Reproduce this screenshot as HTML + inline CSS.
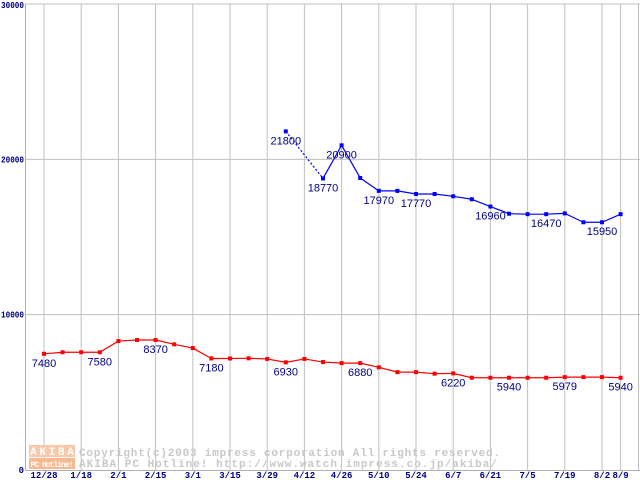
<!DOCTYPE html>
<html><head><meta charset="utf-8"><style>
html,body{margin:0;padding:0;background:#fff;}
svg{display:block;font-family:"Liberation Mono",monospace;}
</style></head><body>
<svg id="chart" width="640" height="480" viewBox="0 0 640 480" xmlns="http://www.w3.org/2000/svg"></svg>
<script>
const categories=["12/28","","1/18","","2/1","","2/15","","3/1","","3/15","","3/29","","4/12","","4/26","","5/10","","5/24","","6/7","","6/21","","7/5","","7/19","","8/2","8/9"];
const redValues=[7480,7580,7580,7580,8300,8370,8370,8090,7850,7180,7180,7190,7150,6930,7150,6950,6880,6880,6610,6300,6300,6200,6220,5940,5940,5940,5940,5940,5979,5979,5979,5940];
const blueValues=[null,null,null,null,null,null,null,null,null,null,null,null,null,21800,null,18770,20900,18800,17970,17970,17770,17770,17620,17430,16960,16500,16470,16470,16520,15950,15950,16470];
const redLabelIdx=[0,3,6,9,13,17,22,25,28,31];
const blueLabelIdx=[13,15,16,18,20,24,27,30];
const yTicks=[0,10000,20000,30000];

const svg=document.getElementById('chart');
const NS='http://www.w3.org/2000/svg';
const X0=44,DX=18.6,Y0=470,Y1=4,YMAX=30000;
const xs=i=>X0+DX*i;
const ys=v=>Y0-(v/YMAX)*(Y0-Y1);
function mk(tag,attrs,parent){const e=document.createElementNS(NS,tag);for(const k in attrs)e.setAttribute(k,attrs[k]);(parent||svg).appendChild(e);return e;}

const grid=mk('g',{});


yTicks.forEach(t=>{if(t>0){const l=mk('line',{x1:25,x2:640,y1:ys(t),y2:ys(t),stroke:'#c0c0c0','stroke-width':1},grid);

}});
categories.forEach((c,i)=>{if(c){const l=mk('line',{x1:xs(i),x2:xs(i),y1:Y1,y2:Y0,stroke:'#c0c0c0','stroke-width':1},grid);

}});
mk('line',{x1:638.5,x2:638.5,y1:Y1,y2:Y0,stroke:'#c0c0c0'},grid);
const ax=mk('line',{x1:25.5,x2:25.5,y1:Y1,y2:Y0,stroke:'#b0b0b0'},grid);


const bx=mk('line',{x1:25,x2:640,y1:Y0+0.5,y2:Y0+0.5,stroke:'#b0b0b0'},grid);



// watermark
const wm=mk('g',{});


mk('rect',{x:29,y:445,width:46,height:12,fill:'#f8c8a8'},wm);
mk('rect',{x:29,y:458,width:46,height:11,fill:'#f8b890'},wm);
let t=mk('text',{x:52,y:455,'text-anchor':'middle','font-size':11,'font-weight':'bold',fill:'#fff',textLength:44},wm);t.textContent='AKIBA';
t=mk('text',{x:52,y:467,'text-anchor':'middle','font-size':8,'font-weight':'bold',fill:'#fff',textLength:43},wm);t.textContent='PC Hotline!';
t=mk('text',{x:79,y:456,'font-size':11,'font-weight':'bold',fill:'#c8c8c8',textLength:421},wm);t.textContent='Copyright(c)2003 impress corporation All rights reserved.';
t=mk('text',{x:79,y:467,'font-size':11,'font-weight':'bold',fill:'#c8c8c8',textLength:418},wm);t.textContent='AKIBA PC Hotline!  http://www.watch.impress.co.jp/akiba/';

// y tick labels
yTicks.forEach(v=>{const s=String(v);
  const attrs={x:24,y:Math.min(Math.max(ys(v)+3,8),473),'text-anchor':'end','font-size':9,'font-weight':'bold',fill:'#000080'};
  if(s.length>1){attrs.textLength=s.length*4.6;attrs.lengthAdjust='spacingAndGlyphs';}
  const tt=mk('text',attrs);
  
  
  tt.textContent=s;});
// x tick labels
categories.forEach((c,i)=>{if(c){const tt=mk('text',{x:xs(i),y:478,'text-anchor':'middle','font-size':9,'font-weight':'bold',fill:'#000080'});


tt.textContent=c;}});

function series(vals,color,name,labelIdx){
  const g=mk('g',{});
  
  
  let prev=-1;
  vals.forEach((v,i)=>{
    if(v==null)return;
    if(prev>=0){const gap=i-prev>1;
      mk('line',{x1:xs(prev),y1:ys(vals[prev]),x2:xs(i),y2:ys(v),stroke:color,'stroke-width':1.2,'stroke-dasharray':gap?'2,2':'none'},g);}
    prev=i;});
  vals.forEach((v,i)=>{if(v==null)return;
    const r=mk('rect',{x:xs(i)-2,y:ys(v)-2,width:4,height:4,fill:color},g);
    
    });
  labelIdx.forEach(i=>{const v=vals[i];if(v==null)return;
    const tt=mk('text',{x:xs(i),y:ys(v)+13,'text-anchor':'middle','font-family':'"Liberation Sans",sans-serif','font-size':11,fill:'#000080'},g);
    
    
    tt.textContent=String(v);});
}
series(redValues,'#ff0000','red-series',redLabelIdx);
series(blueValues,'#0000ff','blue-series',blueLabelIdx);
</script>
</body></html>
